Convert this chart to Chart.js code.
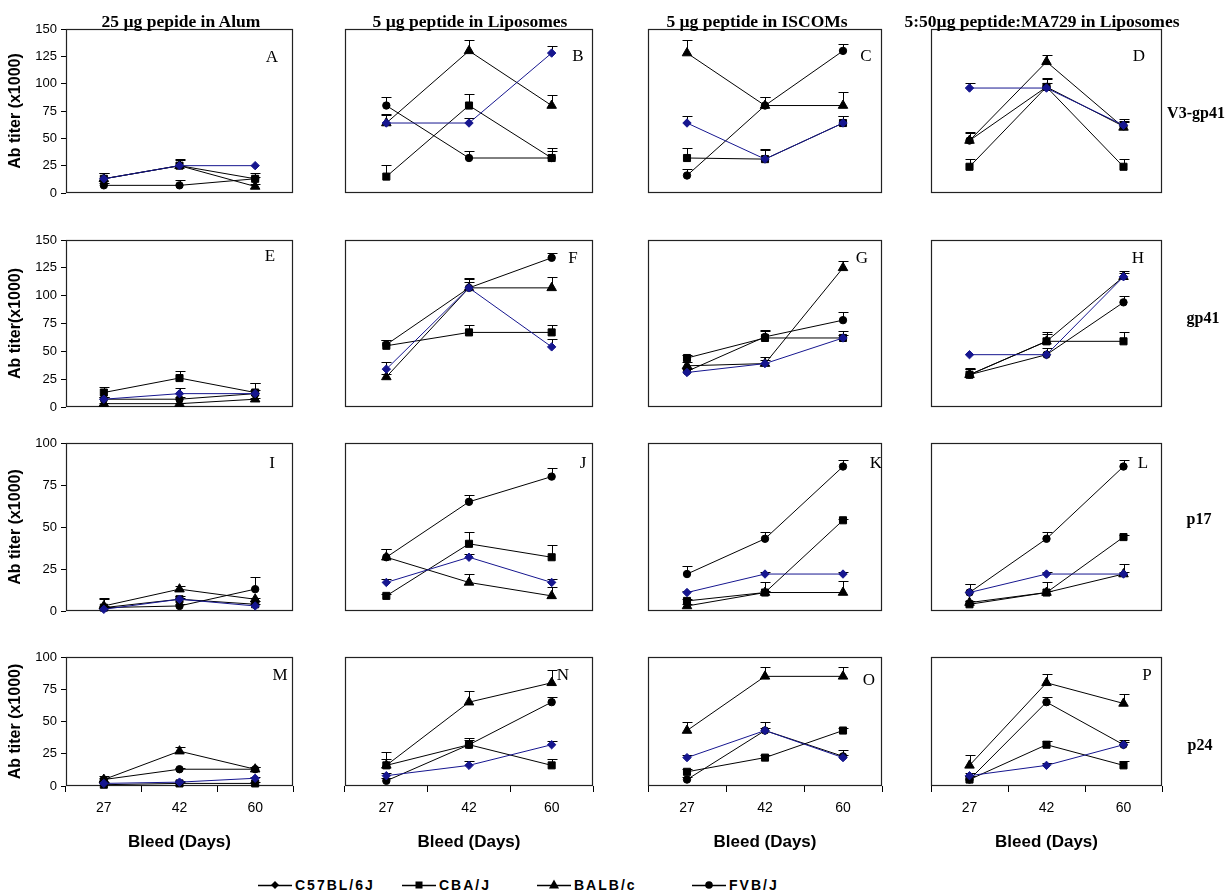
<!DOCTYPE html>
<html><head><meta charset="utf-8">
<script src="https://cdn.jsdelivr.net/npm/chart.js@4/dist/chart.umd.min.js"></script>
<style>
body{margin:0;background:#fff;width:1230px;height:896px;position:relative;overflow:hidden;}
canvas{position:absolute;}
.t{position:absolute;white-space:nowrap;color:#000;line-height:1;}
.ct{font:bold 17.5px "Liberation Serif","Times New Roman",serif;transform:translate(-50%,-50%);}
.pl{font:17px "Liberation Serif","Times New Roman",serif;transform:translate(-50%,-50%);}
.rl{font:bold 16px "Liberation Serif","Times New Roman",serif;transform:translate(-50%,-50%);}
.lg{position:absolute;display:flex;align-items:center;font:bold 14px "Liberation Sans",Arial,sans-serif;letter-spacing:2px;transform:translateY(-50%);}
.lg svg{margin-right:3px;}
</style></head><body>
<script>
// ---------------- data ----------------
const days = ['27', '42', '60'];
const strains = ['C57BL/6J', 'CBA/J', 'BALB/c', 'FVB/J'];
const panelLetters = ['A','B','C','D','E','F','G','H','I','J','K','L','M','N','O','P'];
const columnTitles = ['25 \u00b5g pepide in Alum', '5 \u00b5g peptide in Liposomes', '5 \u00b5g peptide in ISCOMs', '5:50\u00b5g peptide:MA729 in Liposomes'];
const rowLabels = ['V3-gp41', 'gp41', 'p17', 'p24'];
const yAxisTitles = ['Ab titer (x1000)', 'Ab titer(x1000)', 'Ab titer (x1000)', 'Ab titer (x1000)'];
const xAxisTitle = 'Bleed (Days)';
const yMax = [150, 150, 100, 100];
const yStep = 25;

// titers (x1000) per panel A..P, values at day 27, 42, 60
const c57Titer = [
  [13,25,25],[64,64,128],[64,31,64],[96,96,62],
  [7,12,12],[34,107,54],[31,39,62],[47,47,117],
  [1,7,3],[17,32,17],[11,22,22],[11,22,22],
  [2,3,6],[8,16,32],[22,43,22],[8,16,32]
];
const cbaTiter = [
  [13,25,13],[15,80,32],[32,31,64],[24,97,24],
  [13,26,13],[55,67,67],[44,62,62],[29,59,59],
  [2,7,4],[9,40,32],[6,11,54],[4,11,44],
  [1,2,2],[16,32,16],[11,22,43],[5,32,16]
];
const balbTiter = [
  [13,25,6],[64,130,80],[128,80,80],[48,120,60],
  [3,3,7],[27,107,107],[37,39,125],[29,59,117],
  [3,13,7],[32,17,9],[3,11,11],[5,11,22],
  [5,27,13],[16,65,80],[43,85,85],[16,80,64]
];
const fvbTiter = [
  [7,7,13],[80,32,32],[16,80,130],[48,97,61],
  [7,7,12],[56,107,134],[32,63,78],[29,47,94],
  [2,3,13],[32,65,80],[22,43,86],[11,43,86],
  [5,13,13],[4,32,65],[5,43,23],[5,65,32]
];
// upper error (SD) per panel
const c57Err = [
  [0,0,0],[8,5,6],[6,8,6],[5,5,4],
  [2,5,3],[6,5,7],[3,3,3],[0,0,3],
  [1,1,1],[2,2,2],[1,1,1],[5,1,1],
  [1,1,1],[2,3,3],[2,2,2],[2,2,2]
];
const cbaErr = [
  [5,5,5],[11,11,9],[9,9,6],[7,7,7],
  [5,6,9],[5,7,7],[3,7,6],[6,8,8],
  [5,2,2],[1,7,7],[1,6,1],[1,6,1],
  [1,1,1],[5,5,5],[2,2,2],[3,3,3]
];
const balbErr = [
  [5,6,2],[7,10,10],[12,8,12],[7,6,5],
  [1,1,1],[3,9,10],[3,6,6],[5,7,5],
  [5,2,1],[5,5,5],[1,1,7],[1,1,6],
  [3,3,2],[10,9,10],[7,7,7],[8,7,7]
];
const fvbErr = [
  [2,5,2],[8,6,6],[6,8,6],[8,8,7],
  [2,2,10],[4,8,4],[3,5,7],[5,6,6],
  [1,1,7],[5,4,5],[5,4,4],[5,4,4],
  [1,1,2],[2,4,4],[2,7,5],[3,4,4]
];

// ---------------- layout / styles ----------------
const colL = [66, 345, 648, 931];
const colR = [293, 593, 882, 1162];
const rowT = [29, 240, 443, 657];
const rowB = [193, 407, 611, 786];
const letterPos = [
  [272,57],[578,56],[866,56],[1139,56],
  [270,256],[573,258],[862,258],[1138,258],
  [272,463],[583,463],[876,463],[1143,463],
  [280,675],[563,675],[869,680],[1147,675]
];
const titlePos = [[181,21],[470,21],[757,21],[1042,21]];
const rowLabelPos = [[1196,113],[1203,318],[1199,519],[1200,745]];
const BLUE = '#16168f';
const SANS = '"Liberation Sans", Arial, sans-serif';
const Y_W = 60, PAD = 10, X_H = 67;

const seriesStyle = [
  {values: c57Titer, err: c57Err, color: BLUE, point: 'rectRot', r: 4.2},
  {values: cbaTiter, err: cbaErr, color: '#000', point: 'rect', r: 5},
  {values: balbTiter, err: balbErr, color: '#000', point: 'triangle', r: 5.5},
  {values: fvbTiter, err: fvbErr, color: '#000', point: 'circle', r: 3.7}
];

const errorBars = {
  id: 'errorBars',
  beforeDatasetsDraw(chart) {
    const ctx = chart.ctx, ys = chart.scales.y;
    ctx.save();
    ctx.strokeStyle = '#000'; ctx.lineWidth = 1;
    chart.data.datasets.forEach((ds, i) => {
      const meta = chart.getDatasetMeta(i);
      meta.data.forEach((pt, j) => {
        const e = ds.errUp[j];
        if (!e) return;
        const y1 = Math.round(ys.getPixelForValue(ds.data[j] + e)) + 0.5;
        const x = Math.round(pt.x) + 0.5;
        ctx.beginPath();
        ctx.moveTo(x, pt.y); ctx.lineTo(x, y1);
        ctx.moveTo(x - 5, y1); ctx.lineTo(x + 5, y1);
        ctx.stroke();
      });
    });
    ctx.restore();
  }
};
const frame = {
  id: 'frame',
  beforeDatasetsDraw(chart) {
    const a = chart.chartArea, ctx = chart.ctx;
    ctx.save();
    ctx.strokeStyle = '#222'; ctx.lineWidth = 1.2;
    ctx.strokeRect(Math.round(a.left) + 0.5, Math.round(a.top) + 0.5, Math.round(a.right - a.left) - 1, Math.round(a.bottom - a.top) - 1);
    ctx.restore();
  }
};

function addText(cls, text, x, y) {
  const d = document.createElement('div');
  d.className = 't ' + cls;
  d.textContent = text;
  d.style.left = x + 'px'; d.style.top = y + 'px';
  document.body.appendChild(d);
}

for (let row = 0; row < 4; row++) {
  for (let col = 0; col < 4; col++) {
    const p = row * 4 + col;
    const bl = colL[col], br = colR[col], bt = rowT[row], bb = rowB[row];
    const showX = row === 3;
    const bottomExtra = showX ? X_H : PAD;
    const cv = document.createElement('canvas');
    const w = Y_W + (br - bl) + PAD, h = PAD + (bb - bt) + bottomExtra;
    cv.width = w; cv.height = h;
    cv.style.left = (bl - Y_W) + 'px'; cv.style.top = (bt - PAD) + 'px';
    cv.style.width = w + 'px'; cv.style.height = h + 'px';
    document.body.appendChild(cv);

    const datasets = seriesStyle.map((s, k) => ({
      label: strains[k],
      data: s.values[p],
      errUp: s.err[p],
      borderColor: s.color,
      backgroundColor: s.color,
      borderWidth: 1,
      pointStyle: s.point,
      pointRadius: s.r,
      pointBorderWidth: 1,
      pointBackgroundColor: s.color,
      pointBorderColor: s.color,
      tension: 0,
      clip: false
    }));

    const xScale = {
      type: 'category', offset: true, display: showX,
      grid: { offset: true, drawOnChartArea: false, drawTicks: true, tickLength: 6, color: '#000' },
      border: { display: false },
      ticks: { color: '#000', font: { family: SANS, size: 14 }, padding: 8, maxRotation: 0 },
      title: { display: true, text: xAxisTitle, color: '#000', font: { family: SANS, size: 17, weight: 'bold' }, padding: 0 }
    };
    if (showX) xScale.afterFit = s => { s.height = X_H; s.paddingLeft = 0; s.paddingRight = 0; };

    new Chart(cv, {
      type: 'line',
      data: { labels: days, datasets },
      plugins: [frame, errorBars],
      options: {
        responsive: false, animation: false, devicePixelRatio: 1,
        layout: { padding: { left: 0, right: PAD, top: PAD, bottom: showX ? 0 : PAD } },
        plugins: { legend: { display: false }, tooltip: { enabled: false } },
        scales: {
          x: xScale,
          y: {
            min: 0, max: yMax[row],
            ticks: { display: col === 0, stepSize: yStep, color: '#000', font: { family: SANS, size: 13 }, padding: 4 },
            grid: { drawOnChartArea: false, drawTicks: col === 0, tickLength: 5, color: '#000' },
            border: { display: false },
            title: { display: col === 0, text: yAxisTitles[row], color: '#000', font: { family: SANS, size: 16, weight: 'bold' }, padding: 0 },
            afterFit: s => { s.width = Y_W; s.paddingTop = 0; s.paddingBottom = 0; }
          }
        }
      }
    });
    addText('pl', panelLetters[p], letterPos[p][0], letterPos[p][1]);
  }
}
columnTitles.forEach((t, i) => addText('ct', t, titlePos[i][0], titlePos[i][1]));
rowLabels.forEach((t, i) => addText('rl', t, rowLabelPos[i][0], rowLabelPos[i][1]));

// legend
const legendX = [258, 402, 537, 692];
const legendY = 885;
const markerSvg = [
  '<polygon points="17,3 21,7 17,11 13,7" fill="#000"/>',
  '<rect x="13.5" y="3.5" width="7" height="7" fill="#000"/>',
  '<polygon points="17,1.5 22,10.5 12,10.5" fill="#000"/>',
  '<circle cx="17" cy="7" r="3.8" fill="#000"/>'
];
strains.forEach((s, i) => {
  const d = document.createElement('div');
  d.className = 'lg';
  d.style.left = legendX[i] + 'px'; d.style.top = legendY + 'px';
  d.innerHTML = '<svg width="34" height="14"><line x1="0" y1="7.5" x2="34" y2="7.5" stroke="#000" stroke-width="1.3"/>' + markerSvg[i] + '</svg>';
  const sp = document.createElement('span');
  sp.textContent = s;
  d.appendChild(sp);
  document.body.appendChild(d);
});
</script>
</body></html>
